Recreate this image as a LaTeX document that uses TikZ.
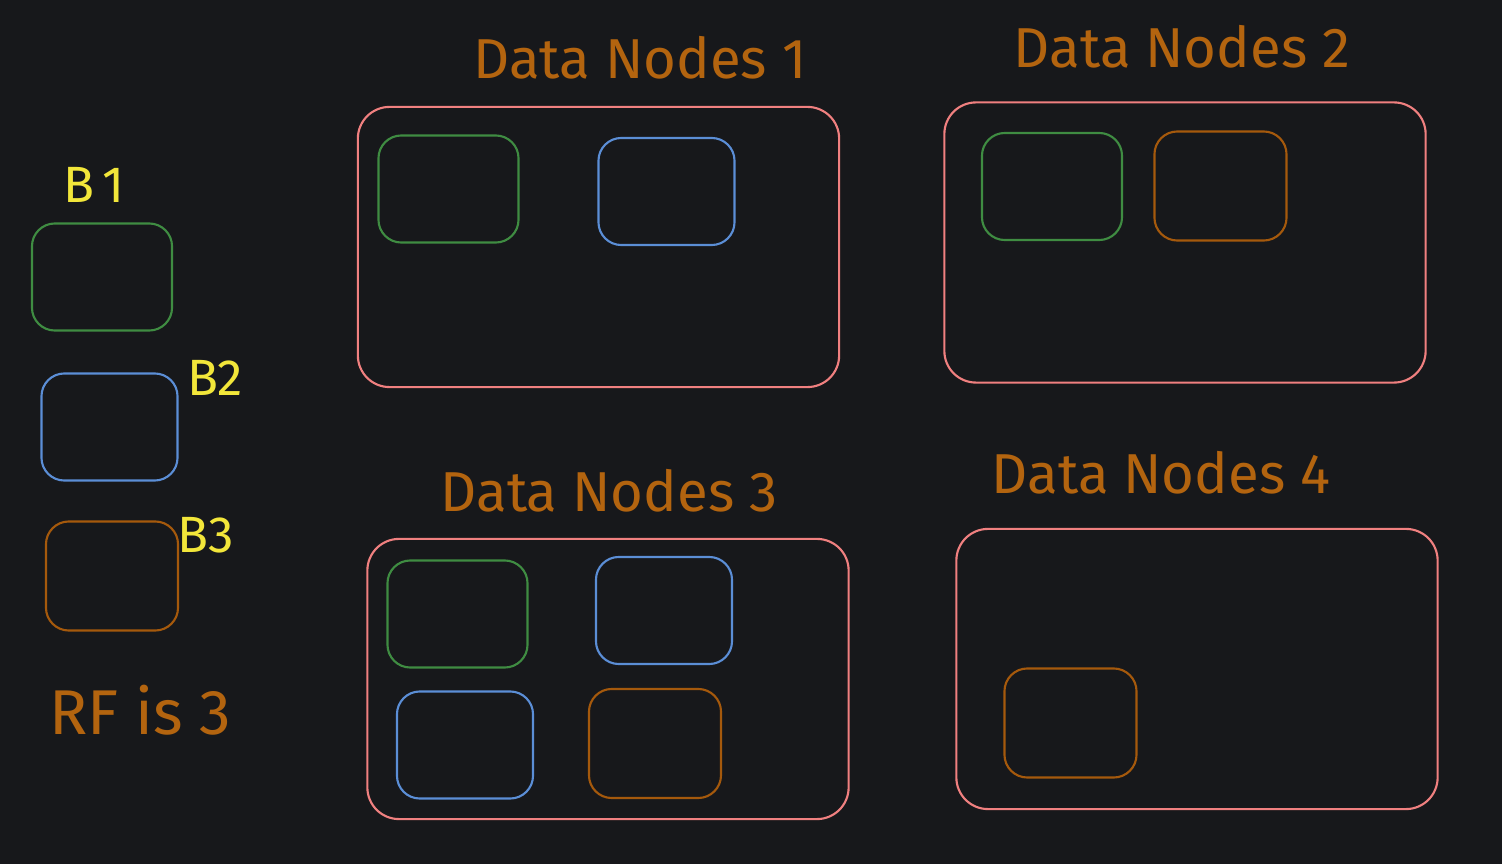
\documentclass[tikz,border=0pt]{standalone}
\usepackage{fontspec}
\setmainfont{Fira Sans}
\usetikzlibrary{positioning}

\definecolor{bgdark}{HTML}{17181B}
\definecolor{nodered}{HTML}{F08080}
\definecolor{blkgreen}{HTML}{3F8C42}
\definecolor{blkblue}{HTML}{5B8ED6}
\definecolor{blkorange}{HTML}{A5590C}
\definecolor{txtorange}{HTML}{B3640F}
\definecolor{txtyellow}{HTML}{F2E63A}

\begin{document}
\begin{tikzpicture}[
    x=0.01cm, y=-0.01cm,
    % Styles
    datanode/.style={
        rectangle,
        draw=nodered,
        line width=0.6pt,
        minimum width=4.81cm,
        minimum height=2.80cm,
        inner sep=0pt,
        rounded corners=9pt
    },
    block/.style={
        rectangle,
        line width=0.6pt,
        minimum width=1.37cm,
        minimum height=1.07cm,
        inner sep=0pt,
        rounded corners=6.5pt
    },
    greenblock/.style={block, draw=blkgreen, minimum width=1.40cm},
    blueblock/.style={block, draw=blkblue, minimum width=1.36cm},
    orangeblock/.style={block, draw=blkorange, minimum width=1.32cm, minimum height=1.09cm},
    title/.style={font=\fontsize{16}{19}\selectfont, text=txtorange, inner sep=0pt},
    blabel/.style={font=\fontsize{14.5}{17}\selectfont, text=txtyellow, inner sep=0pt}
]

% Background
\fill[bgdark] (0,0) rectangle (1502,864);
\useasboundingbox (0,0) rectangle (1502,864);

% Legend
\node[blabel] (b1label) at (94,185) {B\,1};
\node[greenblock] (legend_b1) at (102,277) {};
\node[blabel] (b2label) at (215,378) {B2};
\node[blueblock] (legend_b2) at (109.5,427) {};
\node[blabel] (b3label) at (206,535) {B3};
\node[orangeblock] (legend_b3) at (112,576) {};
\node[title, font=\fontsize{18}{21}\selectfont] (rf) at (140,710) {RF is 3};

% Data Nodes 1
\node[title] (title1) at (640,58) {Data Nodes 1};
\node[datanode] (dn1) at (598.5,247) {};
\node[greenblock] (dn1_b1) at (448.5,189) {};
\node[blueblock] (dn1_b2) at (666.5,191.5) {};

% Data Nodes 2
\node[title] (title2) at (1182,47) {Data Nodes 2};
\node[datanode] (dn2) at (1185,242.5) {};
\node[greenblock] (dn2_b1) at (1052,186.5) {};
\node[orangeblock] (dn2_b3) at (1220.5,186) {};

% Data Nodes 3
\node[title] (title3) at (609,491) {Data Nodes 3};
\node[datanode] (dn3) at (608,679) {};
\node[greenblock] (dn3_b1) at (457.5,614) {};
\node[blueblock] (dn3_b2) at (664,610.5) {};
\node[blueblock] (dn3_b2b) at (465,745) {};
\node[orangeblock] (dn3_b3) at (655,743.5) {};

% Data Nodes 4
\node[title] (title4) at (1161,473) {Data Nodes 4};
\node[datanode] (dn4) at (1197,669) {};
\node[orangeblock] (dn4_b3) at (1070.5,723) {};

\end{tikzpicture}
\end{document}
